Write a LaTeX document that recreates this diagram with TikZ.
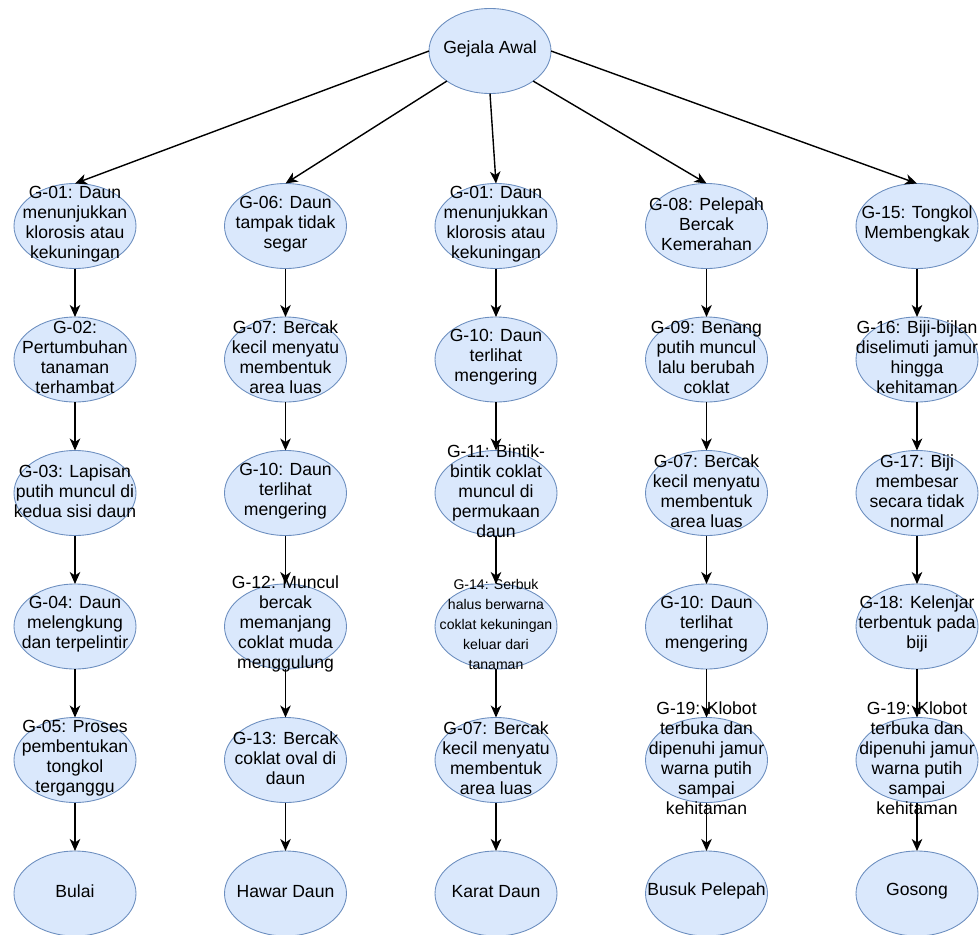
\documentclass[tikz,border=0pt]{standalone}
\usepackage{fontspec}
\setmainfont{Liberation Sans}
\usepackage{tikz}
\usepackage{tkz-graph}
\usetikzlibrary{shapes.geometric,arrows.meta}

\definecolor{gejalafill}{HTML}{DAE8FC}
\definecolor{gejalaline}{HTML}{6C8EBF}

% text of a vertex, may run out of the ellipse
\NewDocumentCommand{\Gtext}{m}{\makebox[0pt]{\raisebox{-2.5pt}{\smash{\parbox{3cm}{\centering #1}}}}}

\begin{document}
\begin{tikzpicture}[scale=1.0]
  \tikzset{VertexStyle/.style={shape=ellipse,draw=gejalaline,fill=gejalafill,line width=0.5pt,
      minimum width=2.44cm,minimum height=1.7cm,inner sep=0pt,text=black,
      font=\fontsize{10pt}{11.4pt}\selectfont},
    GejalaEdge/.style={draw,black,line width=0.8pt,-{Stealth[length=2.4mm,width=2.1mm,inset=0.7mm]}}}
  \useasboundingbox (0,0) rectangle (19.58,-18.68);
  \SetGraphUnit{2.67}
  \Vertex[x=9.8,y=-1.02,L={\Gtext{Gejala Awal}}]{root}
  % first row
  \Vertex[x=1.5,y=-4.52,L={\Gtext{G-01: Daun\\menunjukkan\\klorosis atau\\kekuningan}}]{a1}
    \EA[unit=4.21,L={\Gtext{G-06: Daun\\tampak tidak\\segar}}](a1){b1}
    \EA[unit=4.21,L={\Gtext{G-01: Daun\\menunjukkan\\klorosis atau\\kekuningan}}](b1){c1}
    \EA[unit=4.21,L={\Gtext{G-08: Pelepah\\Bercak\\Kemerahan}}](c1){d1}
    \EA[unit=4.21,L={\Gtext{G-15: Tongkol\\Membengkak}}](d1){e1}
  % Bulai
  \SO[L={\Gtext{G-02:\\Pertumbuhan\\tanaman\\terhambat}}](a1){a2}
  \SO[L={\Gtext{G-03: Lapisan\\putih muncul di\\kedua sisi daun}}](a2){a3}
  \SO[L={\Gtext{G-04: Daun\\melengkung\\dan terpelintir}}](a3){a4}
  \SO[L={\Gtext{G-05: Proses\\pembentukan\\tongkol\\terganggu}}](a4){a5}
  \SO[L={\Gtext{Bulai}}](a5){a6}
  % Hawar Daun
  \SO[L={\Gtext{G-07: Bercak\\kecil menyatu\\membentuk\\area luas}}](b1){b2}
  \SO[L={\Gtext{G-10: Daun\\terlihat\\mengering}}](b2){b3}
  \SO[L={\Gtext{G-12: Muncul\\bercak\\memanjang\\coklat muda\\menggulung}}](b3){b4}
  \SO[L={\Gtext{G-13: Bercak\\coklat oval di\\daun}}](b4){b5}
  \SO[L={\Gtext{Hawar Daun}}](b5){b6}
  % Karat Daun
  \SO[L={\Gtext{G-10: Daun\\terlihat\\mengering}}](c1){c2}
  \SO[L={\Gtext{G-11: Bintik-\\bintik coklat\\muncul di\\permukaan\\daun}}](c2){c3}
  \SO[L={\Gtext{\fontsize{8pt}{11.4pt}\selectfont G-14: Serbuk\\halus berwarna\\coklat kekuningan\\keluar dari\\tanaman}}](c3){c4}
  \SO[L={\Gtext{G-07: Bercak\\kecil menyatu\\membentuk\\area luas}}](c4){c5}
  \SO[L={\Gtext{Karat Daun}}](c5){c6}
  % Busuk Pelepah
  \SO[L={\Gtext{G-09: Benang\\putih muncul\\lalu berubah\\coklat}}](d1){d2}
  \SO[L={\Gtext{G-07: Bercak\\kecil menyatu\\membentuk\\area luas}}](d2){d3}
  \SO[L={\Gtext{G-10: Daun\\terlihat\\mengering}}](d3){d4}
  \SO[L={\Gtext{G-19: Klobot\\terbuka dan\\dipenuhi jamur\\warna putih\\sampai\\kehitaman}}](d4){d5}
  \SO[L={\Gtext{Busuk Pelepah}}](d5){d6}
  % Gosong
  \SO[L={\Gtext{G-16: Biji-bijlan\\diselimuti jamur\\hingga\\kehitaman}}](e1){e2}
  \SO[L={\Gtext{G-17: Biji\\membesar\\secara tidak\\normal}}](e2){e3}
  \SO[L={\Gtext{G-18: Kelenjar\\terbentuk pada\\biji}}](e3){e4}
  \SO[L={\Gtext{G-19: Klobot\\terbuka dan\\dipenuhi jamur\\warna putih\\sampai\\kehitaman}}](e4){e5}
  \SO[L={\Gtext{Gosong}}](e5){e6}
  % edges
  \draw[GejalaEdge] (root.west) -- (a1.north);
  \draw[GejalaEdge] (root.south west) -- (b1.north);
  \draw[GejalaEdge] (root.south) -- (c1.north);
  \draw[GejalaEdge] (root.south east) -- (d1.north);
  \draw[GejalaEdge] (root.east) -- (e1.north);
  \foreach \col in {a,b,c,d,e}
    \foreach \i [count=\j from 2] in {1,...,5}
      \draw[GejalaEdge] (\col\i) -- (\col\j);
\end{tikzpicture}
\end{document}
